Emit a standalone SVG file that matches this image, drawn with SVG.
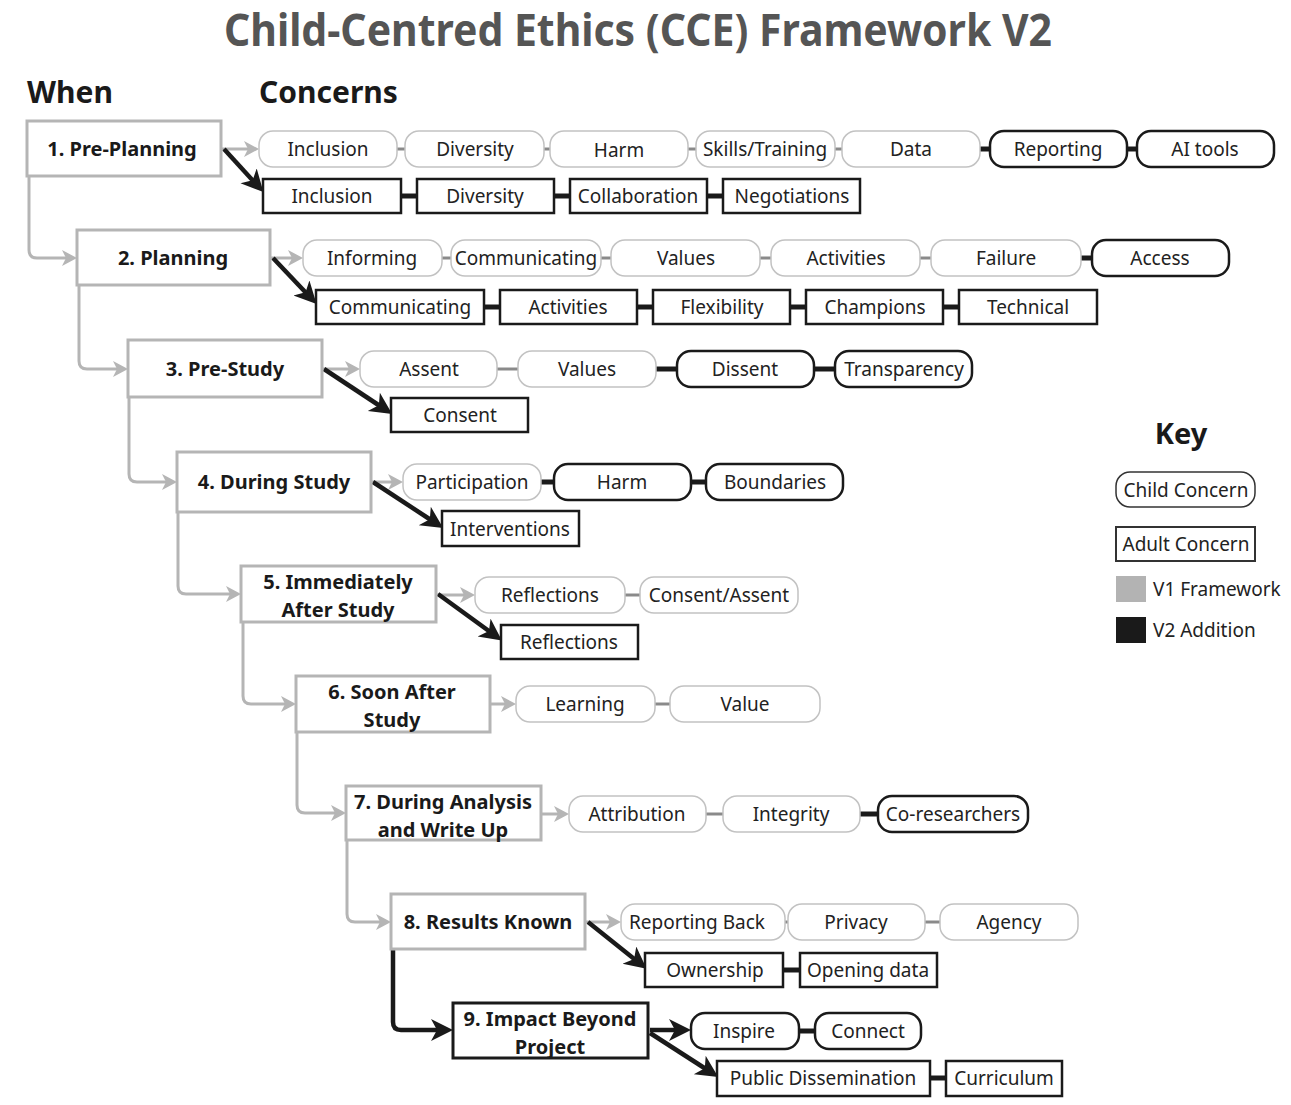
<svg xmlns="http://www.w3.org/2000/svg" width="1291" height="1105" viewBox="0 0 1291 1105">
<style>
.ph{fill:#fff;stroke:#b5b5b5;stroke-width:3}
.ph2{fill:#fff;stroke:#1a1a1a;stroke-width:3}
.c1{fill:#fff;stroke:#c2c2c2;stroke-width:1.5}
.c2{fill:#fff;stroke:#1a1a1a;stroke-width:2.5}
.ad{fill:#fff;stroke:#1a1a1a;stroke-width:2.5}
text{font-family:"Noto Sans","Open Sans","DejaVu Sans",sans-serif}
.t{font-size:19px;fill:#222;text-anchor:middle}
.pt{font-size:20px;font-weight:bold;fill:#1a1a1a;text-anchor:middle}
.h{font-size:30px;font-weight:bold;fill:#1a1a1a}
.gl{fill:none;stroke:#b5b5b5;stroke-width:3}
.bl{fill:none;stroke:#1a1a1a;stroke-width:4.5}
.gc{stroke:#8a8a8a;stroke-width:3}
.bc{stroke:#1a1a1a;stroke-width:5}
</style>
<defs>
<marker id="ag" markerUnits="userSpaceOnUse" markerWidth="18" markerHeight="18" refX="7" refY="8" orient="auto">
<path d="M0,0 L15,8 L0,16 L4,8 z" fill="#b5b5b5"/>
</marker>
<marker id="ab" markerUnits="userSpaceOnUse" markerWidth="24" markerHeight="24" refX="11" refY="11" orient="auto">
<path d="M0,0 L22,11 L0,22 L6,11 z" fill="#1a1a1a"/>
</marker>
</defs>
<rect width="1291" height="1105" fill="#fff"/>
<text x="638" y="46" font-size="45" font-weight="bold" fill="#555" text-anchor="middle" textLength="828" lengthAdjust="spacingAndGlyphs">Child-Centred Ethics (CCE) Framework V2</text>
<text class="h" x="27" y="103">When</text>
<text class="h" x="259" y="103">Concerns</text>

<g id="connectors">
<path class="gl" d="M29,176 V250 Q29,258 37,258 H69" marker-end="url(#ag)"/>
<path class="gl" d="M79,285 V361 Q79,369 87,369 H120" marker-end="url(#ag)"/>
<path class="gl" d="M129,397 V474 Q129,482 137,482 H169" marker-end="url(#ag)"/>
<path class="gl" d="M178,512 V586 Q178,594 186,594 H233" marker-end="url(#ag)"/>
<path class="gl" d="M243,622 V696 Q243,704 251,704 H288" marker-end="url(#ag)"/>
<path class="gl" d="M297,732 V805 Q297,813 305,813 H338" marker-end="url(#ag)"/>
<path class="gl" d="M347,840 V914 Q347,922 355,922 H383" marker-end="url(#ag)"/>
<path class="bl" d="M393,949 V1022 Q393,1030 401,1030 H442" marker-end="url(#ab)"/>
<line class="gl" x1="222" y1="149" x2="251" y2="149" marker-end="url(#ag)"/>
<line class="gl" x1="271" y1="258" x2="295" y2="258" marker-end="url(#ag)"/>
<line class="gl" x1="323" y1="369" x2="352" y2="369" marker-end="url(#ag)"/>
<line class="gl" x1="372" y1="482" x2="395" y2="482" marker-end="url(#ag)"/>
<line class="gl" x1="437" y1="595" x2="467" y2="595" marker-end="url(#ag)"/>
<line class="gl" x1="491" y1="704" x2="508" y2="704" marker-end="url(#ag)"/>
<line class="gl" x1="542" y1="814" x2="561" y2="814" marker-end="url(#ag)"/>
<line class="gl" x1="586" y1="922" x2="613" y2="922" marker-end="url(#ag)"/>
<line class="bl" x1="224" y1="149" x2="256" y2="184" marker-end="url(#ab)"/>
<line class="bl" x1="273" y1="258" x2="309" y2="296" marker-end="url(#ab)"/>
<line class="bl" x1="324" y1="369" x2="383" y2="408" marker-end="url(#ab)"/>
<line class="bl" x1="373" y1="482" x2="434" y2="522" marker-end="url(#ab)"/>
<line class="bl" x1="438" y1="594" x2="493" y2="634" marker-end="url(#ab)"/>
<line class="bl" x1="588" y1="922" x2="638" y2="962" marker-end="url(#ab)"/>
<line class="bl" x1="650" y1="1030" x2="680" y2="1030" marker-end="url(#ab)"/>
<line class="bl" x1="650" y1="1033" x2="709" y2="1071" marker-end="url(#ab)"/>
<line class="gc" x1="397" y1="149" x2="405" y2="149"/>
<line class="gc" x1="544" y1="149" x2="550" y2="149"/>
<line class="gc" x1="688" y1="149" x2="696" y2="149"/>
<line class="gc" x1="835" y1="149" x2="842" y2="149"/>
<line class="bc" x1="980" y1="149" x2="990" y2="149"/>
<line class="bc" x1="1127" y1="149" x2="1137" y2="149"/>
<line class="bc" x1="401" y1="196" x2="417" y2="196"/>
<line class="bc" x1="554" y1="196" x2="570" y2="196"/>
<line class="bc" x1="707" y1="196" x2="723" y2="196"/>
<line class="gc" x1="442" y1="258" x2="451" y2="258"/>
<line class="gc" x1="601" y1="258" x2="611" y2="258"/>
<line class="gc" x1="760" y1="258" x2="771" y2="258"/>
<line class="gc" x1="920" y1="258" x2="931" y2="258"/>
<line class="bc" x1="1081" y1="258" x2="1092" y2="258"/>
<line class="bc" x1="484" y1="307" x2="500" y2="307"/>
<line class="bc" x1="637" y1="307" x2="653" y2="307"/>
<line class="bc" x1="790" y1="307" x2="806" y2="307"/>
<line class="bc" x1="943" y1="307" x2="959" y2="307"/>
<line class="gc" x1="497" y1="369" x2="518" y2="369"/>
<line class="bc" x1="656" y1="369" x2="677" y2="369"/>
<line class="bc" x1="814" y1="369" x2="835" y2="369"/>
<line class="bc" x1="541" y1="482" x2="554" y2="482"/>
<line class="bc" x1="691" y1="482" x2="706" y2="482"/>
<line class="gc" x1="625" y1="595" x2="640" y2="595"/>
<line class="gc" x1="655" y1="704" x2="670" y2="704"/>
<line class="gc" x1="706" y1="814" x2="723" y2="814"/>
<line class="bc" x1="860" y1="814" x2="878" y2="814"/>
<line class="gc" x1="785" y1="922" x2="788" y2="922"/>
<line class="gc" x1="925" y1="922" x2="940" y2="922"/>
<line class="bc" x1="783" y1="970" x2="800" y2="970"/>
<line class="bc" x1="799" y1="1031" x2="815" y2="1031"/>
<line class="bc" x1="930" y1="1078" x2="946" y2="1078"/>
</g>

<g id="phase1"><rect class="ph" x="27" y="121" width="194" height="55"/><text class="pt" x="122" y="156">1. Pre-Planning</text></g>
<g id="phase2"><rect class="ph" x="77" y="230" width="193" height="55"/><text class="pt" x="173" y="265">2. Planning</text></g>
<g id="phase3"><rect class="ph" x="128" y="340" width="194" height="57"/><text class="pt" x="225" y="376">3. Pre-Study</text></g>
<g id="phase4"><rect class="ph" x="177" y="452" width="194" height="60"/><text class="pt" x="274" y="489">4. During Study</text></g>
<g id="phase5"><rect class="ph" x="241" y="566" width="195" height="56"/><text class="pt" x="338" y="589">5. Immediately</text><text class="pt" x="338" y="617">After Study</text></g>
<g id="phase6"><rect class="ph" x="296" y="676" width="194" height="56"/><text class="pt" x="392" y="699">6. Soon After</text><text class="pt" x="392" y="727">Study</text></g>
<g id="phase7"><rect class="ph" x="346" y="786" width="195" height="54"/><text class="pt" x="443" y="809">7. During Analysis</text><text class="pt" x="443" y="837">and Write Up</text></g>
<g id="phase8"><rect class="ph" x="391" y="894" width="194" height="55"/><text class="pt" x="488" y="929">8. Results Known</text></g>
<g id="phase9"><rect class="ph2" x="453" y="1003" width="195" height="55"/><text class="pt" x="550" y="1026">9. Impact Beyond</text><text class="pt" x="550" y="1054">Project</text></g>

<g id="c1-inclusion"><rect class="c1" x="259" y="131" width="138" height="36" rx="14"/><text class="t" x="328" y="156">Inclusion</text></g>
<g id="c1-diversity"><rect class="c1" x="405" y="131" width="139" height="36" rx="14"/><text class="t" x="475" y="156">Diversity</text></g>
<g id="c1-harm"><rect class="c1" x="550" y="131" width="138" height="36" rx="14"/><text class="t" x="619" y="157">Harm</text></g>
<g id="c1-skills"><rect class="c1" x="696" y="131" width="139" height="36" rx="14"/><text class="t" x="765" y="156">Skills/Training</text></g>
<g id="c1-data"><rect class="c1" x="842" y="131" width="138" height="36" rx="14"/><text class="t" x="911" y="156">Data</text></g>
<g id="c1-reporting"><rect class="c2" x="990" y="131" width="137" height="36" rx="14"/><text class="t" x="1058" y="156">Reporting</text></g>
<g id="c1-aitools"><rect class="c2" x="1137" y="131" width="137" height="36" rx="14"/><text class="t" x="1205" y="156">AI tools</text></g>
<g id="a1-inclusion"><rect class="ad" x="263" y="179" width="138" height="34"/><text class="t" x="332" y="203">Inclusion</text></g>
<g id="a1-diversity"><rect class="ad" x="417" y="179" width="137" height="34"/><text class="t" x="485" y="203">Diversity</text></g>
<g id="a1-collaboration"><rect class="ad" x="570" y="179" width="137" height="34"/><text class="t" x="638" y="203">Collaboration</text></g>
<g id="a1-negotiations"><rect class="ad" x="723" y="179" width="137" height="34"/><text class="t" x="792" y="203">Negotiations</text></g>

<g id="c2-informing"><rect class="c1" x="303" y="240" width="139" height="36" rx="14"/><text class="t" x="372" y="265">Informing</text></g>
<g id="c2-communicating"><rect class="c1" x="451" y="240" width="150" height="36" rx="14"/><text class="t" x="526" y="265">Communicating</text></g>
<g id="c2-values"><rect class="c1" x="611" y="240" width="149" height="36" rx="14"/><text class="t" x="686" y="265">Values</text></g>
<g id="c2-activities"><rect class="c1" x="771" y="240" width="149" height="36" rx="14"/><text class="t" x="846" y="265">Activities</text></g>
<g id="c2-failure"><rect class="c1" x="931" y="240" width="150" height="36" rx="14"/><text class="t" x="1006" y="265">Failure</text></g>
<g id="c2-access"><rect class="c2" x="1092" y="240" width="137" height="36" rx="14"/><text class="t" x="1160" y="265">Access</text></g>
<g id="a2-communicating"><rect class="ad" x="316" y="290" width="168" height="34"/><text class="t" x="400" y="314">Communicating</text></g>
<g id="a2-activities"><rect class="ad" x="500" y="290" width="137" height="34"/><text class="t" x="568" y="314">Activities</text></g>
<g id="a2-flexibility"><rect class="ad" x="653" y="290" width="137" height="34"/><text class="t" x="722" y="314">Flexibility</text></g>
<g id="a2-champions"><rect class="ad" x="806" y="290" width="137" height="34"/><text class="t" x="875" y="314">Champions</text></g>
<g id="a2-technical"><rect class="ad" x="959" y="290" width="138" height="34"/><text class="t" x="1028" y="314">Technical</text></g>

<g id="c3-assent"><rect class="c1" x="360" y="351" width="137" height="36" rx="14"/><text class="t" x="429" y="376">Assent</text></g>
<g id="c3-values"><rect class="c1" x="518" y="351" width="138" height="36" rx="14"/><text class="t" x="587" y="376">Values</text></g>
<g id="c3-dissent"><rect class="c2" x="677" y="351" width="137" height="36" rx="14"/><text class="t" x="745" y="376">Dissent</text></g>
<g id="c3-transparency"><rect class="c2" x="835" y="351" width="137" height="36" rx="14"/><text class="t" x="904" y="376">Transparency</text></g>
<g id="a3-consent"><rect class="ad" x="391" y="398" width="137" height="34"/><text class="t" x="460" y="422">Consent</text></g>

<g id="c4-participation"><rect class="c1" x="403" y="464" width="138" height="36" rx="14"/><text class="t" x="472" y="489">Participation</text></g>
<g id="c4-harm"><rect class="c2" x="554" y="464" width="137" height="36" rx="14"/><text class="t" x="622" y="489">Harm</text></g>
<g id="c4-boundaries"><rect class="c2" x="706" y="464" width="137" height="36" rx="14"/><text class="t" x="775" y="489">Boundaries</text></g>
<g id="a4-interventions"><rect class="ad" x="442" y="511" width="137" height="35"/><text class="t" x="510" y="536">Interventions</text></g>

<g id="c5-reflections"><rect class="c1" x="475" y="577" width="150" height="36" rx="14"/><text class="t" x="550" y="602">Reflections</text></g>
<g id="c5-consentassent"><rect class="c1" x="640" y="577" width="158" height="36" rx="14"/><text class="t" x="719" y="602">Consent/Assent</text></g>
<g id="a5-reflections"><rect class="ad" x="501" y="625" width="137" height="34"/><text class="t" x="569" y="649">Reflections</text></g>

<g id="c6-learning"><rect class="c1" x="516" y="686" width="139" height="36" rx="14"/><text class="t" x="585" y="711">Learning</text></g>
<g id="c6-value"><rect class="c1" x="670" y="686" width="150" height="36" rx="14"/><text class="t" x="745" y="711">Value</text></g>

<g id="c7-attribution"><rect class="c1" x="569" y="796" width="137" height="36" rx="14"/><text class="t" x="637" y="821">Attribution</text></g>
<g id="c7-integrity"><rect class="c1" x="723" y="796" width="137" height="36" rx="14"/><text class="t" x="791" y="821">Integrity</text></g>
<g id="c7-coresearchers"><rect class="c2" x="878" y="796" width="150" height="36" rx="14"/><text class="t" x="953" y="821">Co-researchers</text></g>

<g id="c8-reportingback"><rect class="c1" x="621" y="904" width="164" height="36" rx="14"/><text class="t" x="697" y="929">Reporting Back</text></g>
<g id="c8-privacy"><rect class="c1" x="788" y="904" width="137" height="36" rx="14"/><text class="t" x="856" y="929">Privacy</text></g>
<g id="c8-agency"><rect class="c1" x="940" y="904" width="138" height="36" rx="14"/><text class="t" x="1009" y="929">Agency</text></g>
<g id="a8-ownership"><rect class="ad" x="645" y="953" width="138" height="34"/><text class="t" x="715" y="977">Ownership</text></g>
<g id="a8-openingdata"><rect class="ad" x="800" y="953" width="137" height="34"/><text class="t" x="868" y="977">Opening data</text></g>

<g id="c9-inspire"><rect class="c2" x="691" y="1013" width="108" height="36" rx="14"/><text class="t" x="744" y="1038">Inspire</text></g>
<g id="c9-connect"><rect class="c2" x="815" y="1013" width="106" height="36" rx="14"/><text class="t" x="868" y="1038">Connect</text></g>
<g id="a9-publicdissemination"><rect class="ad" x="717" y="1061" width="213" height="35"/><text class="t" x="823" y="1085" font-size="18.5">Public Dissemination</text></g>
<g id="a9-curriculum"><rect class="ad" x="946" y="1061" width="116" height="35"/><text class="t" x="1004" y="1085">Curriculum</text></g>

<g id="key">
<text x="1181" y="444" font-size="29" font-weight="bold" fill="#1a1a1a" text-anchor="middle">Key</text>
<rect x="1116" y="472" width="139" height="35" rx="14" fill="#fff" stroke="#333" stroke-width="1.5"/>
<text class="t" x="1186" y="497">Child Concern</text>
<rect x="1116" y="527" width="139" height="34" fill="#fff" stroke="#333" stroke-width="2"/>
<text class="t" x="1186" y="551">Adult Concern</text>
<rect x="1116" y="576" width="30" height="26" fill="#b3b3b3"/>
<text x="1153" y="596" font-size="19" fill="#222">V1 Framework</text>
<rect x="1116" y="617" width="30" height="26" fill="#1a1a1a"/>
<text x="1153" y="637" font-size="19" fill="#222">V2 Addition</text>
</g>
</svg>
